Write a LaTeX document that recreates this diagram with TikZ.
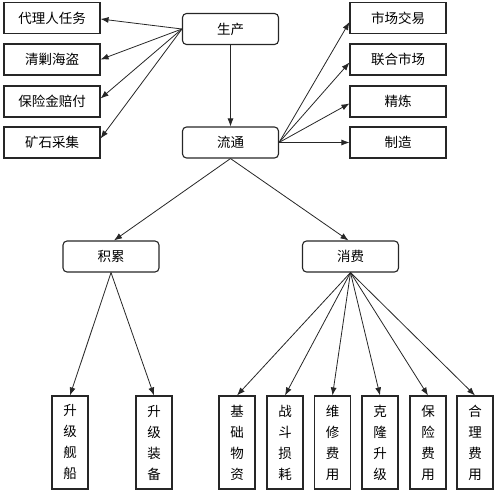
\documentclass[tikz,border=0pt]{standalone}
\usepackage{fontspec}
\newfontfamily\cjk{Noto Sans CJK SC}
\usetikzlibrary{arrows.meta}
\begin{document}
\begin{tikzpicture}[x=1pt,y=-1pt,
 box/.style={draw=black!85, line width=1.1pt, minimum width=96pt, minimum height=31pt, inner sep=0pt, font=\cjk\fontsize{13.5}{16}\selectfont},
 rbox/.style={box, rounded corners=4pt},
 vbox/.style={draw=black!85, line width=1.1pt, minimum width=36pt, minimum height=93pt, inner sep=0pt, align=center, font=\cjk\fontsize{13.5}{21}\selectfont},
 arr/.style={-{Latex[length=8pt,width=6pt]}, line width=0.8pt, draw=black!85}]
\useasboundingbox (0,0) rectangle (500,495);
% centre row
\node[rbox] (sc) at (230.5,29) {生产};
\node[rbox] (lt) at (230.5,142.5) {流通};
% left column
\node[box] (l1) at (52,18) {代理人任务};
\node[box] (l2) at (52,59.5) {清剿海盗};
\node[box] (l3) at (52,101.5) {保险金赔付};
\node[box] (l4) at (52,142.5) {矿石采集};
% right column
\node[box] (r1) at (398,18) {市场交易};
\node[box] (r2) at (398,59.5) {联合市场};
\node[box] (r3) at (398,101.5) {精炼};
\node[box] (r4) at (398,142.5) {制造};
% second level
\node[rbox] (jl) at (111,256.5) {积累};
\node[rbox] (xf) at (350.5,256.5) {消费};
% bottom
\node[vbox] (b1) at (70,442.5) {升\\级\\舰\\船};
\node[vbox] (b2) at (154,442.5) {升\\级\\装\\备};
\node[vbox] (b3) at (237,442.5) {基\\础\\物\\资};
\node[vbox] (b4) at (285,442.5) {战\\斗\\损\\耗};
\node[vbox] (b5) at (332.5,442.5) {维\\修\\费\\用};
\node[vbox] (b6) at (380,442.5) {克\\隆\\升\\级};
\node[vbox] (b7) at (428,442.5) {保\\险\\费\\用};
\node[vbox] (b8) at (475,442.5) {合\\理\\费\\用};
% arrows
\draw[arr] (sc.west) -- ([yshift=-1pt]l1.east);
\draw[arr] (sc.west) -- (l2.east);
\draw[arr] (sc.west) -- ([yshift=3pt]l3.east);
\draw[arr] (sc.west) -- ([yshift=4pt]l4.east);
\draw[arr] (sc) -- (lt);
\draw[arr] (lt.east) -- ([yshift=-4pt]r1.west);
\draw[arr] (lt.east) -- ([yshift=-3pt]r2.west);
\draw[arr] (lt.east) -- ([yshift=-2pt]r3.west);
\draw[arr] (lt.east) -- (r4.west);
\draw[arr] (lt.south) -- ([xshift=3pt]jl.north);
\draw[arr] (lt.south) -- ([xshift=-2pt]xf.north);
\draw[arr] (jl.south) -- (b1.north);
\draw[arr] (jl.south) -- (b2.north);
\foreach \b in {b3,b4,b5,b6,b7,b8}
  \draw[arr] (xf.south) -- (\b.north);
\end{tikzpicture}
\end{document}
